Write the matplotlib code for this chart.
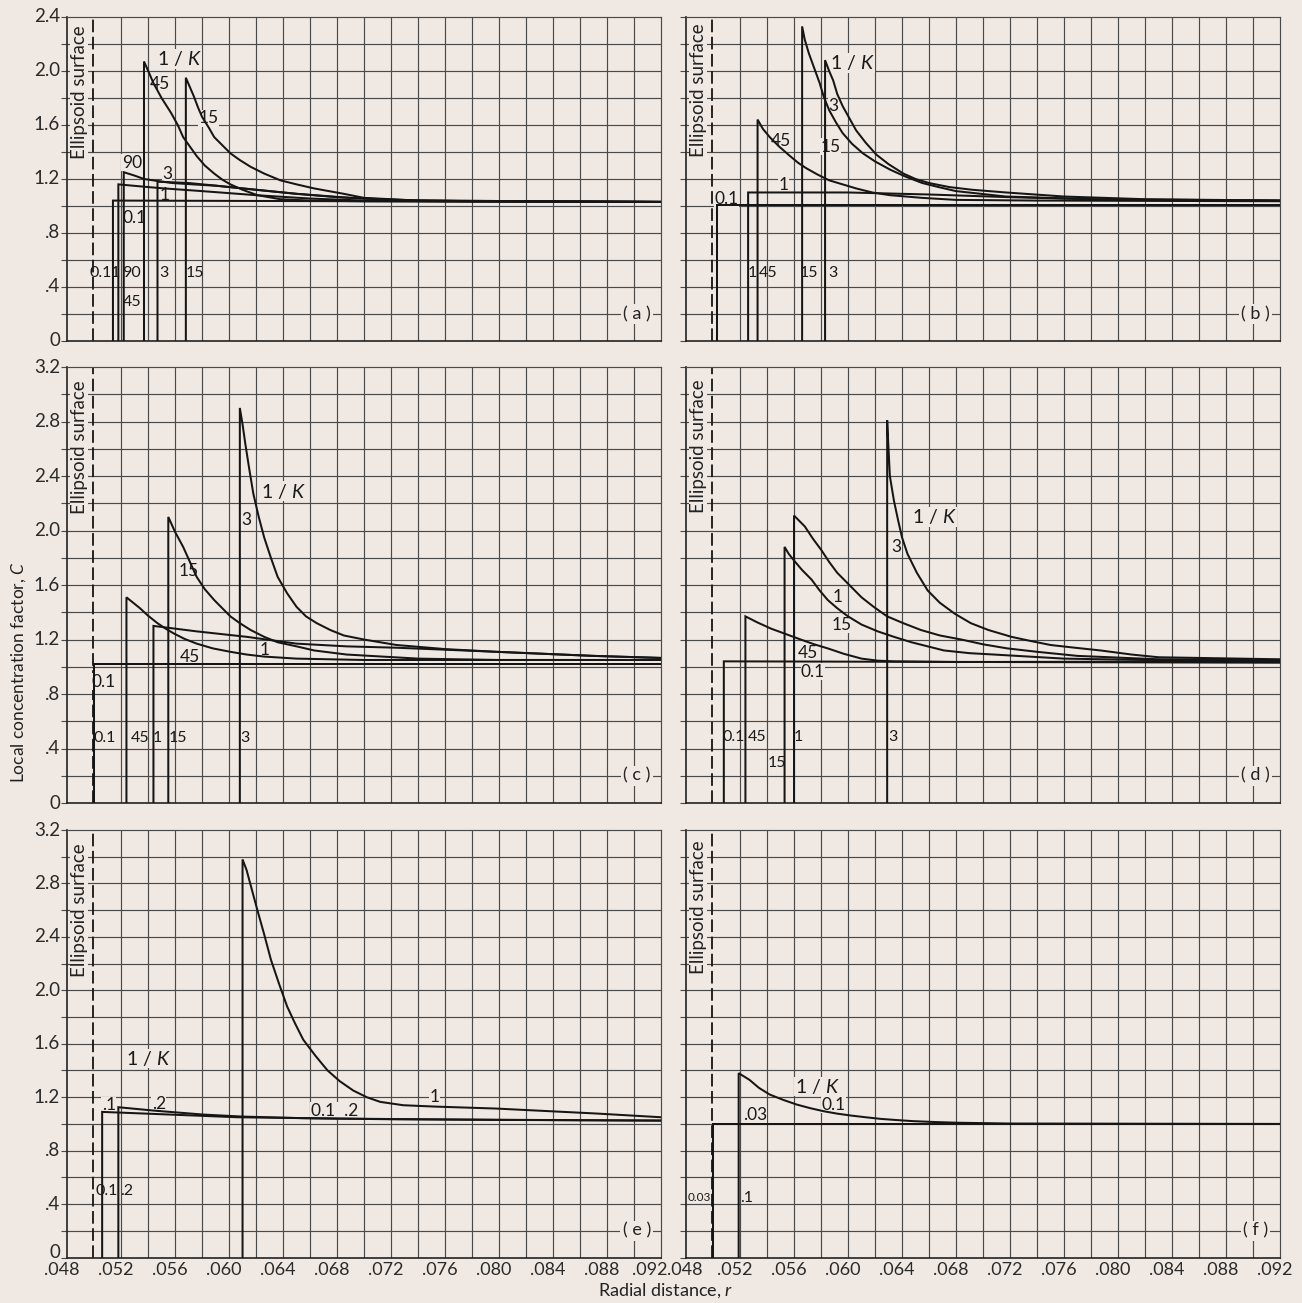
import matplotlib
import numpy as np

matplotlib.use("Agg")
import matplotlib.pyplot as plt
import matplotlib.transforms as mtransforms

plt.rcParams["font.family"] = ["Lato", "DejaVu Sans"]
plt.rcParams["mathtext.fontset"] = "custom"
plt.rcParams["mathtext.rm"] = "Lato"
plt.rcParams["mathtext.it"] = "Lato:italic"

BG = "#f0e8e2"
GRID = "#4a4a4a"
INK = "#151515"

# ---- data: radial distance r, concentration factor C ----
# panel (a)
a_01_r = [0.0514, 0.0514, 0.0700, 0.092]
a_01_c = [0, 1.04, 1.035, 1.03]
a_1_r = [0.0518, 0.0518, 0.0540, 0.0552, 0.0580, 0.0620, 0.0660, 0.0700, 0.0760, 0.092]
a_1_c = [0, 1.16, 1.14, 1.13, 1.11, 1.08, 1.055, 1.04, 1.035, 1.03]
a_90_r = [0.0522, 0.0522, 0.0530, 0.0537, 0.0547, 0.0558, 0.0573, 0.0590, 0.0620, 0.0650, 0.0680, 0.0720, 0.0780, 0.092]
a_90_c = [0, 1.25, 1.225, 1.20, 1.185, 1.17, 1.16, 1.15, 1.12, 1.09, 1.065, 1.045, 1.035, 1.03]
a_45_r = [0.0537, 0.0537, 0.0541, 0.0544, 0.0550, 0.0557, 0.0562, 0.0566, 0.0571, 0.0576, 0.0582,
          0.0589, 0.0595, 0.0601, 0.0610, 0.0621, 0.0638, 0.0660, 0.0700, 0.092]
a_45_c = [0, 2.07, 1.98, 1.91, 1.80, 1.69, 1.60, 1.51, 1.44, 1.37, 1.30,
          1.24, 1.195, 1.16, 1.12, 1.08, 1.05, 1.04, 1.035, 1.03]
a_3_r = [0.0547, 0.0547, 0.0570, 0.0591, 0.0620, 0.0650, 0.0690, 0.0740, 0.092]
a_3_c = [0, 1.18, 1.17, 1.15, 1.12, 1.09, 1.06, 1.04, 1.03]
a_15_r = [0.0568, 0.0568, 0.0571, 0.0574, 0.0577, 0.0580, 0.0585, 0.0589, 0.0595, 0.0601, 0.0608,
          0.0616, 0.0626, 0.0638, 0.0650, 0.0663, 0.0685, 0.0700, 0.0740, 0.092]
a_15_c = [0, 1.95, 1.88, 1.81, 1.73, 1.66, 1.58, 1.51, 1.45, 1.39, 1.34,
          1.29, 1.24, 1.19, 1.16, 1.13, 1.09, 1.06, 1.04, 1.03]

# panel (b)
b_01_r = [0.0503, 0.0503, 0.092]
b_01_c = [0, 1.01, 1.01]
b_1_r = [0.0526, 0.0526, 0.0600, 0.0660, 0.0720, 0.0800, 0.092]
b_1_c = [0, 1.10, 1.10, 1.085, 1.065, 1.045, 1.04]
b_45_r = [0.0533, 0.0533, 0.0537, 0.0542, 0.0549, 0.0557, 0.0563, 0.0569, 0.0577, 0.0586, 0.0596,
          0.0606, 0.0618, 0.0631, 0.0655, 0.0680, 0.0740, 0.092]
b_45_c = [0, 1.64, 1.57, 1.51, 1.44, 1.37, 1.32, 1.28, 1.235, 1.19, 1.16,
          1.13, 1.10, 1.08, 1.06, 1.045, 1.04, 1.035]
b_15_r = [0.0566, 0.0566, 0.0568, 0.0571, 0.0575, 0.0579, 0.0582, 0.0586, 0.0591, 0.0596, 0.0603,
          0.0611, 0.0620, 0.0631, 0.0642, 0.0655, 0.0667, 0.0680, 0.0717, 0.0780, 0.092]
b_15_c = [0, 2.33, 2.23, 2.13, 2.02, 1.91, 1.81, 1.71, 1.62, 1.54, 1.46,
          1.39, 1.33, 1.27, 1.22, 1.17, 1.14, 1.11, 1.07, 1.05, 1.04]
b_3_r = [0.0583, 0.0583, 0.0586, 0.0589, 0.0592, 0.0596, 0.0601, 0.0606, 0.0613, 0.0621, 0.0630,
         0.0641, 0.0650, 0.0660, 0.0675, 0.0692, 0.0717, 0.0760, 0.0820, 0.092]
b_3_c = [0, 2.08, 2.00, 1.93, 1.83, 1.74, 1.65, 1.56, 1.47, 1.38, 1.31,
         1.24, 1.20, 1.17, 1.14, 1.12, 1.10, 1.07, 1.05, 1.04]

# panel (c)
c_01_r = [0.0500, 0.0500, 0.092]
c_01_c = [0, 1.02, 1.02]
c_45_r = [0.0524, 0.0524, 0.0529, 0.0534, 0.0540, 0.0547, 0.0553, 0.0559, 0.0567, 0.0576, 0.0588,
          0.0601, 0.0613, 0.0626, 0.0650, 0.0700, 0.092]
c_45_c = [0, 1.51, 1.47, 1.43, 1.375, 1.32, 1.28, 1.245, 1.205, 1.17, 1.135,
          1.11, 1.09, 1.075, 1.06, 1.05, 1.05]
c_1_r = [0.0544, 0.0544, 0.0576, 0.0613, 0.0650, 0.0687, 0.0724, 0.0798, 0.0870, 0.092]
c_1_c = [0, 1.30, 1.26, 1.22, 1.17, 1.15, 1.14, 1.11, 1.08, 1.065]
c_15_r = [0.0555, 0.0555, 0.0560, 0.0566, 0.0571, 0.0576, 0.0582, 0.0589, 0.0595, 0.0601, 0.0608,
          0.0616, 0.0626, 0.0636, 0.0650, 0.0663, 0.0687, 0.0740, 0.0800, 0.092]
c_15_c = [0, 2.10, 1.99, 1.88, 1.77, 1.66, 1.57, 1.49, 1.43, 1.37, 1.32,
          1.27, 1.22, 1.18, 1.15, 1.12, 1.09, 1.06, 1.05, 1.05]
c_3_r = [0.0608, 0.0608, 0.0610, 0.0612, 0.0615, 0.0618, 0.0622, 0.0626, 0.0631, 0.0636, 0.0643,
         0.0650, 0.0657, 0.0665, 0.0675, 0.0685, 0.0700, 0.0724, 0.0760, 0.0798, 0.0870, 0.092]
c_3_c = [0, 2.90, 2.78, 2.64, 2.45, 2.27, 2.10, 1.95, 1.80, 1.66, 1.54,
         1.44, 1.37, 1.32, 1.27, 1.23, 1.20, 1.16, 1.13, 1.11, 1.08, 1.065]

# panel (d)
d_01_r = [0.0508, 0.0508, 0.092]
d_01_c = [0, 1.04, 1.03]
d_45_r = [0.0524, 0.0524, 0.0533, 0.0543, 0.0554, 0.0565, 0.0575, 0.0585, 0.0597, 0.0610, 0.0622,
          0.0634, 0.0680, 0.092]
d_45_c = [0, 1.37, 1.325, 1.28, 1.24, 1.20, 1.165, 1.135, 1.095, 1.06, 1.045,
          1.04, 1.035, 1.04]
d_15_r = [0.0553, 0.0553, 0.0556, 0.0560, 0.0566, 0.0573, 0.0579, 0.0585, 0.0592, 0.0600, 0.0610,
          0.0622, 0.0634, 0.0647, 0.0659, 0.0671, 0.0690, 0.0708, 0.0760, 0.0820, 0.092]
d_15_c = [0, 1.88, 1.83, 1.78, 1.71, 1.64, 1.56, 1.49, 1.43, 1.37, 1.31,
          1.26, 1.22, 1.18, 1.15, 1.12, 1.10, 1.09, 1.06, 1.05, 1.05]
d_1_r = [0.0560, 0.0560, 0.0564, 0.0568, 0.0574, 0.0580, 0.0586, 0.0592, 0.0601, 0.0610, 0.0619,
         0.0629, 0.0641, 0.0654, 0.0668, 0.0684, 0.0700, 0.0718, 0.0740, 0.0770, 0.0830, 0.092]
d_1_c = [0, 2.11, 2.07, 2.03, 1.94, 1.86, 1.77, 1.69, 1.60, 1.51, 1.44,
         1.37, 1.32, 1.27, 1.23, 1.20, 1.165, 1.135, 1.11, 1.08, 1.055, 1.05]
d_3_r = [0.0629, 0.0629, 0.0630, 0.0631, 0.0634, 0.0637, 0.0640, 0.0644, 0.0651, 0.0659, 0.0668,
         0.0679, 0.0691, 0.0704, 0.0721, 0.0735, 0.0750, 0.0768, 0.0787, 0.0810, 0.0830, 0.092]
d_3_c = [0, 2.81, 2.60, 2.40, 2.22, 2.08, 1.95, 1.83, 1.69, 1.56, 1.47,
         1.39, 1.32, 1.27, 1.22, 1.19, 1.16, 1.14, 1.12, 1.09, 1.07, 1.055]

# panel (e)
e_01_r = [0.0506, 0.0506, 0.0544, 0.0606, 0.0680, 0.0800, 0.092]
e_01_c = [0, 1.09, 1.075, 1.05, 1.04, 1.03, 1.025]
e_02_r = [0.0518, 0.0518, 0.0544, 0.0581, 0.0610, 0.0655, 0.0720, 0.092]
e_02_c = [0, 1.125, 1.10, 1.07, 1.055, 1.043, 1.035, 1.025]
e_1_r = [0.0610, 0.0610, 0.0613, 0.0617, 0.0621, 0.0626, 0.0631, 0.0637, 0.0643, 0.0649, 0.0655,
         0.0664, 0.0673, 0.0682, 0.0692, 0.0702, 0.0712, 0.0729, 0.0752, 0.0798, 0.0872, 0.092]
e_1_c = [0, 2.98, 2.90, 2.75, 2.60, 2.42, 2.23, 2.05, 1.88, 1.75, 1.63,
         1.51, 1.40, 1.32, 1.25, 1.20, 1.165, 1.14, 1.13, 1.115, 1.078, 1.05]

# panel (f)
f_003_r = [0.0500, 0.0500, 0.092]
f_003_c = [0, 1.0, 1.0]
f_01_r = [0.0519, 0.0519, 0.0523, 0.0527, 0.0534, 0.0542, 0.0552, 0.0562, 0.0572, 0.0582, 0.0592,
          0.0602, 0.0613, 0.0624, 0.0636, 0.0648, 0.0665, 0.0681, 0.0720, 0.092]
f_01_c = [0, 1.38, 1.355, 1.33, 1.27, 1.22, 1.18, 1.145, 1.118, 1.095, 1.077,
          1.063, 1.05, 1.038, 1.029, 1.021, 1.014, 1.009, 1.003, 1.0]

x_ticks = [0.048, 0.052, 0.056, 0.060, 0.064, 0.068, 0.072, 0.076, 0.080, 0.084, 0.088, 0.092]
x_ticklabels = [".048", ".052", ".056", ".060", ".064", ".068", ".072", ".076", ".080", ".084", ".088", ".092"]
y_ticks_24 = [0, 0.4, 0.8, 1.2, 1.6, 2.0, 2.4]
y_ticklabels_24 = ["0", ".4", ".8", "1.2", "1.6", "2.0", "2.4"]
y_ticks_32 = [0, 0.4, 0.8, 1.2, 1.6, 2.0, 2.4, 2.8, 3.2]
y_ticklabels_32 = ["0", ".4", ".8", "1.2", "1.6", "2.0", "2.4", "2.8", "3.2"]

# curve labels on the curves (text, r, C)
a_labels = [("1 / $K$", 0.0563, 2.09), ("45", 0.0549, 1.90), ("15", 0.0585, 1.65),
            ("90", 0.0528, 1.32), ("3", 0.0554, 1.24), ("1", 0.0552, 1.08), ("0.1", 0.0530, 0.91)]
b_labels = [("1 / $K$", 0.0603, 2.06), ("3", 0.0589, 1.74), ("45", 0.0550, 1.48), ("15", 0.0587, 1.44),
            ("1", 0.0552, 1.156), ("0.1", 0.0510, 1.05)]
c_labels = [("1 / $K$", 0.0640, 2.29), ("3", 0.0613, 2.08), ("15", 0.0570, 1.70), ("45", 0.0571, 1.074),
            ("1", 0.0626, 1.123), ("0.1", 0.0507, 0.89)]
d_labels = [("1 / $K$", 0.0664, 2.10), ("3", 0.0636, 1.88), ("1", 0.0592, 1.514), ("15", 0.0595, 1.306),
            ("45", 0.0570, 1.099), ("0.1", 0.0574, 0.964)]
e_labels = [("1 / $K$", 0.0540, 1.49), (".1", 0.0511, 1.14), (".2", 0.0548, 1.15), ("0.1  .2", 0.0678, 1.10),
            ("1", 0.0752, 1.198)]
f_labels = [("1 / $K$", 0.0577, 1.28), ("0.1", 0.0589, 1.145), (".03", 0.0531, 1.07)]

# labels beside the vertical (jump) lines near the foot (text, r, C, alignment)
a_foot = [("0.1", 0.05132, 0.50, "right"), ("1", 0.05160, 0.50, "center"), ("90", 0.0528, 0.50, "center"),
          ("45", 0.0528, 0.29, "center"), ("3", 0.0552, 0.50, "center"), ("15", 0.0575, 0.50, "center")]
b_foot = [("1", 0.0529, 0.50, "center"), ("45", 0.0541, 0.50, "center"), ("15", 0.0571, 0.50, "center"),
          ("3", 0.0589, 0.50, "center")]
c_foot = [("0.1", 0.0508, 0.475, "center"), ("45", 0.0534, 0.475, "center"), ("1", 0.0547, 0.475, "center"),
          ("15", 0.0562, 0.475, "center"), ("3", 0.0612, 0.475, "center")]
d_foot = [("0.1", 0.0515, 0.487, "center"), ("45", 0.0533, 0.487, "center"), ("1", 0.0563, 0.487, "center"),
          ("3", 0.0633, 0.487, "center"), ("15", 0.0547, 0.291, "center")]
e_foot = [("0.1", 0.05178, 0.495, "right"), (".2", 0.05192, 0.495, "left")]
f_foot = [("0.03", 0.0490, 0.448, "center"), (".1", 0.0525, 0.448, "center")]


def offset(fig, dx, dy):
    return mtransforms.ScaledTranslation(dx / 100, dy / 100, fig.dpi_scale_trans)


def draw_panel(ax, curves, labels, foot, ymax, tag, surface_y, left_col, bottom_row):
    fig = ax.figure
    ax.set_facecolor(BG)
    ax.set_xlim(0.048, 0.092)
    ax.set_ylim(0, ymax)

    # graph-paper grid every .002 in r and .2 in C (the .050 line is the surface line)
    for x in np.arange(0.050, 0.0915, 0.002):
        if abs(x - 0.050) < 1e-6:
            continue
        ax.axvline(x, color=GRID, lw=0.85, zorder=1)
    for y in np.arange(0.2, ymax - 0.05, 0.2):
        ax.axhline(y, color=GRID, lw=0.85, zorder=1)
    for side in ["top", "right"]:
        ax.spines[side].set_color(GRID)
        ax.spines[side].set_linewidth(0.85)
    for side in ["left", "bottom"]:
        ax.spines[side].set_color("#222222")
        ax.spines[side].set_linewidth(1.2)

    ax.axvline(0.0499, color=INK, lw=1.3, linestyle=(0, (7, 2.5)), zorder=2)
    ax.text(0.0489, surface_y, "Ellipsoid surface", rotation=90, ha="center", va="center",
            fontsize=13.5, color="#222222", zorder=1.5,
            bbox=dict(facecolor=BG, edgecolor="none", pad=0.5))

    for r, c in curves:
        ax.plot(r, c, color=INK, lw=1.45, zorder=3, solid_joinstyle="miter")

    for text, x, y in labels:
        size = 14 if "K" in text else 12.5
        ax.text(x, y, text, ha="center", va="center", fontsize=size, color="#1a1a1a", zorder=2.5,
                bbox=dict(facecolor=BG, edgecolor="none", pad=0.3))

    for text, x, y, ha in foot:
        size = 8.5 if text == "0.03" else 11.5
        ax.text(x, y, text, ha=ha, va="center", fontsize=size, color="#1a1a1a", zorder=4)

    ax.text(0.0902, 0.2, f"( {tag} )", ha="center", va="center", fontsize=13, color="#222222",
            zorder=2.5, bbox=dict(facecolor=BG, edgecolor="none", pad=1.5))

    # ticks: short outward marks on the left, tick text placed by hand
    ax.set_yticks(np.arange(0, ymax + 0.01, 0.2))
    ax.tick_params(axis="y", direction="out", length=4, width=0.8, color=GRID, labelleft=False)
    ax.set_xticks(x_ticks)
    ax.tick_params(axis="x", length=0, labelbottom=False)

    if left_col:
        yt, yl = (y_ticks_24, y_ticklabels_24) if ymax < 3 else (y_ticks_32, y_ticklabels_32)
        for y, lab in zip(yt, yl):
            dy = 5 if (bottom_row and y == 0) else 0
            ax.text(0, y, lab, transform=ax.get_yaxis_transform() + offset(fig, -7, dy),
                    ha="right", va="center", fontsize=13.5, color="#2a2a2a", clip_on=False)

    if bottom_row:
        n = len(x_ticks)
        for i, (x, lab) in enumerate(zip(x_ticks, x_ticklabels)):
            dx = -5
            if left_col and i == n - 1:
                dx = -11
            if not left_col and i == 0:
                dx = -1
            ax.text(x, 0, lab, transform=ax.get_xaxis_transform() + offset(fig, dx, -4),
                    ha="center", va="top", fontsize=13, color="#2a2a2a", clip_on=False)


fig = plt.figure(figsize=(13.02, 13.03), dpi=100, facecolor=BG)

col_left = [0.0515, 0.5269]
col_w = 0.4562
rows = [(0.7383, 0.2487), (0.3837, 0.3346), (0.0349, 0.3281)]

panels = [
    ([(a_01_r, a_01_c), (a_1_r, a_1_c), (a_90_r, a_90_c), (a_45_r, a_45_c), (a_3_r, a_3_c), (a_15_r, a_15_c)],
     a_labels, a_foot, 2.4, "a", 1.84, 0, 0),
    ([(b_01_r, b_01_c), (b_1_r, b_1_c), (b_45_r, b_45_c), (b_15_r, b_15_c), (b_3_r, b_3_c)],
     b_labels, b_foot, 2.4, "b", 1.86, 0, 1),
    ([(c_01_r, c_01_c), (c_45_r, c_45_c), (c_1_r, c_1_c), (c_15_r, c_15_c), (c_3_r, c_3_c)],
     c_labels, c_foot, 3.2, "c", 2.61, 1, 0),
    ([(d_01_r, d_01_c), (d_45_r, d_45_c), (d_15_r, d_15_c), (d_1_r, d_1_c), (d_3_r, d_3_c)],
     d_labels, d_foot, 3.2, "d", 2.62, 1, 1),
    ([(e_01_r, e_01_c), (e_02_r, e_02_c), (e_1_r, e_1_c)],
     e_labels, e_foot, 3.2, "e", 2.60, 2, 0),
    ([(f_003_r, f_003_c), (f_01_r, f_01_c)],
     f_labels, f_foot, 3.2, "f", 2.62, 2, 1),
]

for curves, labels, foot, ymax, tag, sy, row, col in panels:
    bottom, height = rows[row]
    ax = fig.add_axes([col_left[col], bottom, col_w, height])
    draw_panel(ax, curves, labels, foot, ymax, tag, sy, col == 0, row == 2)

fig.text(0.014, 0.484, "Local concentration factor, $C$", rotation=90, ha="center", va="center",
         fontsize=12.5, color="#222222")
fig.text(0.511, 0.0095, "Radial distance, $r$", ha="center", va="center", fontsize=13, color="#222222")

fig.savefig("out.png", dpi=100, facecolor=BG)
